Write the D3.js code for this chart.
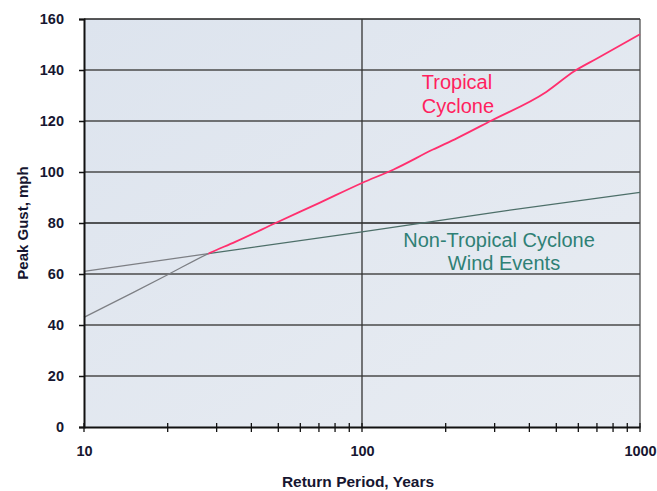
<!DOCTYPE html>
<html><head><meta charset="utf-8">
<script src="https://cdn.jsdelivr.net/npm/d3@7"></script>
<style>body{margin:0;background:#fff;}svg{display:block;font-family:"Liberation Sans",Arial,sans-serif;}</style>
</head><body><svg id="c" width="657" height="491"></svg>
<script>
const years = [10, 15, 20, 28, 35, 50, 70, 100, 130, 180, 220, 290, 460, 580, 700, 1000];
const tropical = [43, 52.7, 59.7, 68, 72.6, 80.5, 87.8, 95.7, 101, 108.8, 113.3, 120, 131.4, 139.5, 144.5, 154];
const nonTropYears = [10, 28, 100, 300, 1000];
const nonTropical = [61, 68, 76.5, 84.2, 92];
const crossingYear = 28;
const yTicks = [0, 20, 40, 60, 80, 100, 120, 140, 160];
const xTicks = [10, 100, 1000];
const xMinor = [20,30,40,50,60,70,80,90,200,300,400,500,600,700,800,900];

const svg = d3.select("#c");
const x = d3.scaleLog().domain([10, 1000]).range([84, 640]);
const y = d3.scaleLinear().domain([0, 160]).range([427, 19]);

const defs = svg.append("defs");
const g = defs.append("linearGradient").attr("id","bg").attr("x1",0).attr("x2",1).attr("y1",0).attr("y2",1);
g.append("stop").attr("offset","0%").attr("stop-color","#dde4ee");
g.append("stop").attr("offset","100%").attr("stop-color","#e8ecf2");
defs.append("clipPath").attr("id","lowClip").append("rect")
  .attr("x", 0).attr("y", 0).attr("width", x(crossingYear)).attr("height", 491);
defs.append("clipPath").attr("id","highClip").append("rect")
  .attr("x", x(crossingYear)).attr("y", 0).attr("width", 657).attr("height", 491);

svg.append("rect").attr("x", x(10)).attr("y", y(160)).attr("width", x(1000)-x(10)).attr("height", y(0)-y(160)).attr("fill","url(#bg)");

// horizontal gridlines
svg.append("g").selectAll("line").data(yTicks.filter(d=>d>0)).join("line")
  .attr("x1", x(10)).attr("x2", x(1000)).attr("y1", d=>y(d)).attr("y2", d=>y(d))
  .attr("stroke", d=> d===160 || d===80 ? "#222" : "#4a4a4a").attr("stroke-width", 1.5);
// vertical gridline at 100
svg.append("line").attr("x1", x(100)).attr("x2", x(100)).attr("y1", y(160)).attr("y2", y(0))
  .attr("stroke","#333").attr("stroke-width",1.3);
// right border
svg.append("line").attr("x1", x(1000)).attr("x2", x(1000)).attr("y1", y(160)).attr("y2", y(0))
  .attr("stroke","#444").attr("stroke-width",1.2);

// lines
const trop = years.map((d,i)=>[d, tropical[i]]);
const non = nonTropYears.map((d,i)=>[d, nonTropical[i]]);
const line = d3.line().x(d=>x(d[0])).y(d=>y(d[1]));
const smooth = d3.line().x(d=>x(d[0])).y(d=>y(d[1])).curve(d3.curveMonotoneX);
svg.append("path").datum(non).attr("d", line).attr("fill","none").attr("stroke","#7d7f84").attr("stroke-width",1.2).attr("clip-path","url(#lowClip)");
svg.append("path").datum(non).attr("d", line).attr("fill","none").attr("stroke","#4d6f69").attr("stroke-width",1.2).attr("clip-path","url(#highClip)");
svg.append("path").datum(trop).attr("d", smooth).attr("fill","none").attr("stroke","#7d7f84").attr("stroke-width",1.2).attr("clip-path","url(#lowClip)");
svg.append("path").datum(trop).attr("d", smooth).attr("fill","none").attr("stroke","#ff2f6e").attr("stroke-width",1.8).attr("clip-path","url(#highClip)");

// axes
const yAxis = d3.axisLeft(y).tickValues(yTicks).tickSize(5).tickPadding(15);
const ya = svg.append("g").attr("transform", `translate(${x(10)},0)`).call(yAxis);
ya.select(".domain").attr("stroke","#111").attr("stroke-width",2);
ya.selectAll(".tick line").attr("stroke","#111").attr("stroke-width",1.5);
ya.selectAll("text").attr("font-size",14.5).attr("font-weight","bold").attr("fill","#161630");

const xAxis = d3.axisBottom(x).tickValues(xTicks).tickFormat(d3.format("d")).tickSize(0).tickPadding(19);
const xa = svg.append("g").attr("transform", `translate(0,${y(0)})`).call(xAxis);
xa.select(".domain").attr("stroke","#111").attr("stroke-width",2);
xa.selectAll("text").attr("font-size",14.5).attr("font-weight","bold").attr("fill","#161630");
svg.append("g").selectAll("line").data(xTicks.concat(xMinor)).join("line")
  .attr("x1", d=>x(d)).attr("x2", d=>x(d)).attr("y1", y(0)-4).attr("y2", y(0)+5)
  .attr("stroke","#111").attr("stroke-width",1.3);

// axis titles
svg.append("text").attr("x", 358).attr("y", 487).attr("text-anchor","middle")
  .attr("font-size",15.5).attr("font-weight","bold").attr("fill","#161630").text("Return Period, Years");
svg.append("text").attr("transform","translate(28,223) rotate(-90)").attr("text-anchor","middle")
  .attr("font-size",15).attr("font-weight","bold").attr("fill","#161630").text("Peak Gust, mph");

// annotations
const ann1 = svg.append("text").attr("text-anchor","middle").attr("font-size",20).attr("fill","#ff1f5e");
ann1.append("tspan").attr("x",457).attr("y",89).text("Tropical");
ann1.append("tspan").attr("x",458).attr("y",113).text("Cyclone");
const ann2 = svg.append("text").attr("text-anchor","middle").attr("font-size",20).attr("fill","#2f8075");
ann2.append("tspan").attr("x",499).attr("y",247).text("Non-Tropical Cyclone");
ann2.append("tspan").attr("x",504).attr("y",270).text("Wind Events");
</script></body></html>
